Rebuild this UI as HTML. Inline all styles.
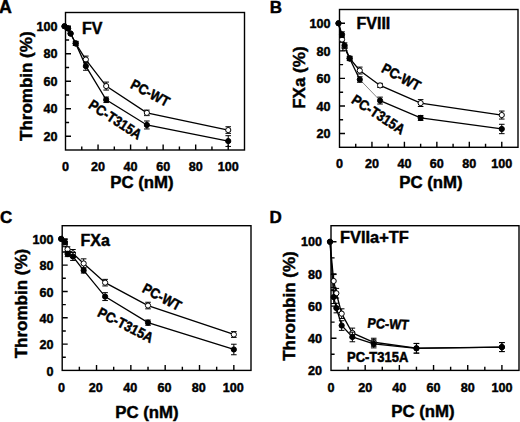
<!DOCTYPE html>
<html><head><meta charset="utf-8"><style>
html,body{margin:0;padding:0;background:#fff;}
svg{display:block;}
text{font-family:"Liberation Sans", sans-serif;font-weight:bold;fill:#000;stroke:#000;stroke-width:0.45px;}
</style></head><body>
<svg width="520" height="422" viewBox="0 0 520 422">
<rect width="520" height="422" fill="#fff"/>
<text x="-1" y="13" font-size="17.8">A</text>
<text x="269.7" y="12.8" font-size="17">B</text>
<text x="0" y="223" font-size="17">C</text>
<text x="269.5" y="222.5" font-size="17">D</text>
<rect x="65.5" y="12.5" width="179" height="137.5" fill="none" stroke="#000" stroke-width="1.4"/>
<path d="M81.77 150v-3.6M98.05 150v-5.5M114.32 150v-3.6M130.59 150v-5.5M146.86 150v-3.6M163.14 150v-5.5M179.41 150v-3.6M195.68 150v-5.5M211.95 150v-3.6M228.23 150v-5.5M65.5 136.25h5.5M65.5 122.5h3.6M65.5 108.75h5.5M65.5 95h3.6M65.5 81.25h5.5M65.5 67.5h3.6M65.5 53.75h5.5M65.5 40h3.6M65.5 26.25h5.5" stroke="#000" stroke-width="1.4" fill="none"/>
<text x="65.5" y="170.7" text-anchor="middle" font-size="12.6">0</text>
<text x="98.05" y="170.7" text-anchor="middle" font-size="12.6">20</text>
<text x="130.59" y="170.7" text-anchor="middle" font-size="12.6">40</text>
<text x="163.14" y="170.7" text-anchor="middle" font-size="12.6">60</text>
<text x="195.68" y="170.7" text-anchor="middle" font-size="12.6">80</text>
<text x="228.23" y="170.7" text-anchor="middle" font-size="12.6">100</text>
<text x="57.5" y="140.95" text-anchor="end" font-size="12.6">20</text>
<text x="57.5" y="113.45" text-anchor="end" font-size="12.6">40</text>
<text x="57.5" y="85.95" text-anchor="end" font-size="12.6">60</text>
<text x="57.5" y="58.45" text-anchor="end" font-size="12.6">80</text>
<text x="57.5" y="30.95" text-anchor="end" font-size="12.6">100</text>
<polyline points="64.5,26.25 68.04,28.45 70.59,33.54 75.67,43.44 85.84,66.12 106.18,99.81 146.86,124.97 228.23,141.06" fill="none" stroke="#000" stroke-width="1.3"/>
<polyline points="64.5,26.25 68.04,28.45 70.59,33.54 75.67,43.44 85.84,59.53 106.18,86.06 146.86,112.88 228.23,130.06" fill="none" stroke="#000" stroke-width="1.3"/>
<path d="M75.67 41.38V45.5M72.87 41.38h5.6M72.87 45.5h5.6" stroke="#000" stroke-width="1" fill="none"/>
<path d="M85.84 56.09V62.96M83.04 56.09h5.6M83.04 62.96h5.6" stroke="#000" stroke-width="1" fill="none"/>
<path d="M106.18 82.08V90.05M103.38 82.08h5.6M103.38 90.05h5.6" stroke="#000" stroke-width="1" fill="none"/>
<path d="M146.86 110.12V115.62M144.06 110.12h5.6M144.06 115.62h5.6" stroke="#000" stroke-width="1" fill="none"/>
<path d="M228.23 126.76V133.36M225.43 126.76h5.6M225.43 133.36h5.6" stroke="#000" stroke-width="1" fill="none"/>
<circle cx="64.5" cy="26.25" r="2.6" fill="#fff" stroke="#000" stroke-width="1"/>
<circle cx="68.04" cy="28.45" r="2.6" fill="#fff" stroke="#000" stroke-width="1"/>
<circle cx="70.59" cy="33.54" r="2.6" fill="#fff" stroke="#000" stroke-width="1"/>
<circle cx="75.67" cy="43.44" r="2.6" fill="#fff" stroke="#000" stroke-width="1"/>
<circle cx="85.84" cy="59.53" r="2.6" fill="#fff" stroke="#000" stroke-width="1"/>
<circle cx="106.18" cy="86.06" r="2.6" fill="#fff" stroke="#000" stroke-width="1"/>
<circle cx="146.86" cy="112.88" r="2.6" fill="#fff" stroke="#000" stroke-width="1"/>
<circle cx="228.23" cy="130.06" r="2.6" fill="#fff" stroke="#000" stroke-width="1"/>
<path d="M75.67 41.38V45.5M72.87 41.38h5.6M72.87 45.5h5.6" stroke="#000" stroke-width="1" fill="none"/>
<path d="M85.84 62V70.25M83.04 62h5.6M83.04 70.25h5.6" stroke="#000" stroke-width="1" fill="none"/>
<path d="M106.18 97.06V102.56M103.38 97.06h5.6M103.38 102.56h5.6" stroke="#000" stroke-width="1" fill="none"/>
<path d="M146.86 120.99V128.96M144.06 120.99h5.6M144.06 128.96h5.6" stroke="#000" stroke-width="1" fill="none"/>
<path d="M228.23 135.7V146.43M225.43 135.7h5.6M225.43 146.43h5.6" stroke="#000" stroke-width="1" fill="none"/>
<circle cx="64.5" cy="26.25" r="2.6" fill="#000" stroke="#000" stroke-width="1"/>
<circle cx="68.04" cy="28.45" r="2.6" fill="#000" stroke="#000" stroke-width="1"/>
<circle cx="70.59" cy="33.54" r="2.6" fill="#000" stroke="#000" stroke-width="1"/>
<circle cx="75.67" cy="43.44" r="2.6" fill="#000" stroke="#000" stroke-width="1"/>
<circle cx="85.84" cy="66.12" r="2.6" fill="#000" stroke="#000" stroke-width="1"/>
<circle cx="106.18" cy="99.81" r="2.6" fill="#000" stroke="#000" stroke-width="1"/>
<circle cx="146.86" cy="124.97" r="2.6" fill="#000" stroke="#000" stroke-width="1"/>
<circle cx="228.23" cy="141.06" r="2.6" fill="#000" stroke="#000" stroke-width="1"/>
<rect x="339.5" y="9.5" width="178.5" height="137.8" fill="none" stroke="#000" stroke-width="1.4"/>
<path d="M355.73 147.3v-3.6M371.95 147.3v-5.5M388.18 147.3v-3.6M404.41 147.3v-5.5M420.64 147.3v-3.6M436.86 147.3v-5.5M453.09 147.3v-3.6M469.32 147.3v-5.5M485.55 147.3v-3.6M501.77 147.3v-5.5M339.5 133.52h5.5M339.5 119.74h3.6M339.5 105.96h5.5M339.5 92.18h3.6M339.5 78.4h5.5M339.5 64.62h3.6M339.5 50.84h5.5M339.5 37.06h3.6M339.5 23.28h5.5" stroke="#000" stroke-width="1.4" fill="none"/>
<text x="339.5" y="168.3" text-anchor="middle" font-size="12.6">0</text>
<text x="371.95" y="168.3" text-anchor="middle" font-size="12.6">20</text>
<text x="404.41" y="168.3" text-anchor="middle" font-size="12.6">40</text>
<text x="436.86" y="168.3" text-anchor="middle" font-size="12.6">60</text>
<text x="469.32" y="168.3" text-anchor="middle" font-size="12.6">80</text>
<text x="501.77" y="168.3" text-anchor="middle" font-size="12.6">100</text>
<text x="330.5" y="138.22" text-anchor="end" font-size="12.6">20</text>
<text x="330.5" y="110.66" text-anchor="end" font-size="12.6">40</text>
<text x="330.5" y="83.1" text-anchor="end" font-size="12.6">60</text>
<text x="330.5" y="55.54" text-anchor="end" font-size="12.6">80</text>
<text x="330.5" y="27.98" text-anchor="end" font-size="12.6">100</text>
<line x1="359.78" y1="79.5" x2="380.07" y2="100.59" stroke="#777" stroke-width="0.9"/>
<polyline points="338.5,23.28 342.04,34.58 344.57,45.6 349.64,58.56 359.78,79.5" fill="none" stroke="#000" stroke-width="1.3"/>
<polyline points="380.07,100.59 420.64,117.95 501.77,128.97" fill="none" stroke="#000" stroke-width="1.3"/>
<polyline points="338.5,23.28 342.04,39.54 344.57,47.67 349.64,58.28 359.78,70.55 380.07,85.43 420.64,103.07 501.77,115.05" fill="none" stroke="#000" stroke-width="1.3"/>
<path d="M342.04 36.78V42.3M339.24 36.78h5.6M339.24 42.3h5.6" stroke="#000" stroke-width="1" fill="none"/>
<path d="M344.57 44.91V50.43M341.77 44.91h5.6M341.77 50.43h5.6" stroke="#000" stroke-width="1" fill="none"/>
<path d="M349.64 56.21V60.35M346.84 56.21h5.6M346.84 60.35h5.6" stroke="#000" stroke-width="1" fill="none"/>
<path d="M359.78 67.1V73.99M356.98 67.1h5.6M356.98 73.99h5.6" stroke="#000" stroke-width="1" fill="none"/>
<path d="M380.07 83.36V87.49M377.27 83.36h5.6M377.27 87.49h5.6" stroke="#000" stroke-width="1" fill="none"/>
<path d="M420.64 99.62V106.51M417.84 99.62h5.6M417.84 106.51h5.6" stroke="#000" stroke-width="1" fill="none"/>
<path d="M501.77 111.06V119.05M498.97 111.06h5.6M498.97 119.05h5.6" stroke="#000" stroke-width="1" fill="none"/>
<circle cx="338.5" cy="23.28" r="2.6" fill="#fff" stroke="#000" stroke-width="1"/>
<circle cx="342.04" cy="39.54" r="2.6" fill="#fff" stroke="#000" stroke-width="1"/>
<circle cx="344.57" cy="47.67" r="2.6" fill="#fff" stroke="#000" stroke-width="1"/>
<circle cx="349.64" cy="58.28" r="2.6" fill="#fff" stroke="#000" stroke-width="1"/>
<circle cx="359.78" cy="70.55" r="2.6" fill="#fff" stroke="#000" stroke-width="1"/>
<circle cx="380.07" cy="85.43" r="2.6" fill="#fff" stroke="#000" stroke-width="1"/>
<circle cx="420.64" cy="103.07" r="2.6" fill="#fff" stroke="#000" stroke-width="1"/>
<circle cx="501.77" cy="115.05" r="2.6" fill="#fff" stroke="#000" stroke-width="1"/>
<path d="M342.04 31.82V37.34M339.24 31.82h5.6M339.24 37.34h5.6" stroke="#000" stroke-width="1" fill="none"/>
<path d="M344.57 42.85V48.36M341.77 42.85h5.6M341.77 48.36h5.6" stroke="#000" stroke-width="1" fill="none"/>
<path d="M349.64 56.49V60.62M346.84 56.49h5.6M346.84 60.62h5.6" stroke="#000" stroke-width="1" fill="none"/>
<path d="M359.78 76.75V82.26M356.98 76.75h5.6M356.98 82.26h5.6" stroke="#000" stroke-width="1" fill="none"/>
<path d="M380.07 97.14V104.03M377.27 97.14h5.6M377.27 104.03h5.6" stroke="#000" stroke-width="1" fill="none"/>
<path d="M420.64 115.47V120.43M417.84 115.47h5.6M417.84 120.43h5.6" stroke="#000" stroke-width="1" fill="none"/>
<path d="M501.77 124.29V133.66M498.97 124.29h5.6M498.97 133.66h5.6" stroke="#000" stroke-width="1" fill="none"/>
<circle cx="338.5" cy="23.28" r="2.6" fill="#000" stroke="#000" stroke-width="1"/>
<circle cx="342.04" cy="34.58" r="2.6" fill="#000" stroke="#000" stroke-width="1"/>
<circle cx="344.57" cy="45.6" r="2.6" fill="#000" stroke="#000" stroke-width="1"/>
<circle cx="349.64" cy="58.56" r="2.6" fill="#000" stroke="#000" stroke-width="1"/>
<circle cx="359.78" cy="79.5" r="2.6" fill="#000" stroke="#000" stroke-width="1"/>
<circle cx="380.07" cy="100.59" r="2.6" fill="#000" stroke="#000" stroke-width="1"/>
<circle cx="420.64" cy="117.95" r="2.6" fill="#000" stroke="#000" stroke-width="1"/>
<circle cx="501.77" cy="128.97" r="2.6" fill="#000" stroke="#000" stroke-width="1"/>
<rect x="62.2" y="225.7" width="188.8" height="144.7" fill="none" stroke="#000" stroke-width="1.4"/>
<path d="M79.36 370.4v-3.6M96.53 370.4v-5.5M113.69 370.4v-3.6M130.85 370.4v-5.5M148.02 370.4v-3.6M165.18 370.4v-5.5M182.35 370.4v-3.6M199.51 370.4v-5.5M216.67 370.4v-3.6M233.84 370.4v-5.5M62.2 357.25h3.6M62.2 344.09h5.5M62.2 330.94h3.6M62.2 317.78h5.5M62.2 304.63h3.6M62.2 291.47h5.5M62.2 278.32h3.6M62.2 265.16h5.5M62.2 252.01h3.6M62.2 238.85h5.5" stroke="#000" stroke-width="1.4" fill="none"/>
<text x="61.5" y="392.3" text-anchor="middle" font-size="12.6">0</text>
<text x="95.83" y="392.3" text-anchor="middle" font-size="12.6">20</text>
<text x="130.15" y="392.3" text-anchor="middle" font-size="12.6">40</text>
<text x="164.48" y="392.3" text-anchor="middle" font-size="12.6">60</text>
<text x="198.81" y="392.3" text-anchor="middle" font-size="12.6">80</text>
<text x="233.14" y="392.3" text-anchor="middle" font-size="12.6">100</text>
<text x="53.5" y="375.7" text-anchor="end" font-size="12.6">0</text>
<text x="53.5" y="349.39" text-anchor="end" font-size="12.6">20</text>
<text x="53.5" y="323.08" text-anchor="end" font-size="12.6">40</text>
<text x="53.5" y="296.77" text-anchor="end" font-size="12.6">60</text>
<text x="53.5" y="270.46" text-anchor="end" font-size="12.6">80</text>
<text x="53.5" y="244.15" text-anchor="end" font-size="12.6">100</text>
<polyline points="61.2,238.85 64.88,242.14 67.56,253.98 72.93,256.48 83.65,270.43 105.11,296.6 148.02,322.65 233.84,349.48" fill="none" stroke="#000" stroke-width="1.3"/>
<polyline points="61.2,238.85 64.88,244.12 67.56,249.38 72.93,253.46 83.65,263.45 105.11,282.66 148.02,305.55 233.84,334.49" fill="none" stroke="#000" stroke-width="1.3"/>
<path d="M64.88 241.49V246.75M62.08 241.49h5.6M62.08 246.75h5.6" stroke="#000" stroke-width="1" fill="none"/>
<path d="M67.56 246.75V252.01M64.76 246.75h5.6M64.76 252.01h5.6" stroke="#000" stroke-width="1" fill="none"/>
<path d="M72.93 249.51V257.4M70.13 249.51h5.6M70.13 257.4h5.6" stroke="#000" stroke-width="1" fill="none"/>
<path d="M83.65 258.85V268.06M80.85 258.85h5.6M80.85 268.06h5.6" stroke="#000" stroke-width="1" fill="none"/>
<path d="M105.11 279.37V285.95M102.31 279.37h5.6M102.31 285.95h5.6" stroke="#000" stroke-width="1" fill="none"/>
<path d="M148.02 302.26V308.84M145.22 302.26h5.6M145.22 308.84h5.6" stroke="#000" stroke-width="1" fill="none"/>
<path d="M233.84 331.59V337.38M231.04 331.59h5.6M231.04 337.38h5.6" stroke="#000" stroke-width="1" fill="none"/>
<circle cx="61.2" cy="238.85" r="2.6" fill="#fff" stroke="#000" stroke-width="1"/>
<circle cx="64.88" cy="244.12" r="2.6" fill="#fff" stroke="#000" stroke-width="1"/>
<circle cx="67.56" cy="249.38" r="2.6" fill="#fff" stroke="#000" stroke-width="1"/>
<circle cx="72.93" cy="253.46" r="2.6" fill="#fff" stroke="#000" stroke-width="1"/>
<circle cx="83.65" cy="263.45" r="2.6" fill="#fff" stroke="#000" stroke-width="1"/>
<circle cx="105.11" cy="282.66" r="2.6" fill="#fff" stroke="#000" stroke-width="1"/>
<circle cx="148.02" cy="305.55" r="2.6" fill="#fff" stroke="#000" stroke-width="1"/>
<circle cx="233.84" cy="334.49" r="2.6" fill="#fff" stroke="#000" stroke-width="1"/>
<path d="M64.88 239.51V244.77M62.08 239.51h5.6M62.08 244.77h5.6" stroke="#000" stroke-width="1" fill="none"/>
<path d="M67.56 251.35V256.61M64.76 251.35h5.6M64.76 256.61h5.6" stroke="#000" stroke-width="1" fill="none"/>
<path d="M72.93 252.54V260.43M70.13 252.54h5.6M70.13 260.43h5.6" stroke="#000" stroke-width="1" fill="none"/>
<path d="M83.65 267.79V273.06M80.85 267.79h5.6M80.85 273.06h5.6" stroke="#000" stroke-width="1" fill="none"/>
<path d="M105.11 292.66V300.55M102.31 292.66h5.6M102.31 300.55h5.6" stroke="#000" stroke-width="1" fill="none"/>
<path d="M148.02 320.02V325.28M145.22 320.02h5.6M145.22 325.28h5.6" stroke="#000" stroke-width="1" fill="none"/>
<path d="M233.84 344.22V354.75M231.04 344.22h5.6M231.04 354.75h5.6" stroke="#000" stroke-width="1" fill="none"/>
<circle cx="61.2" cy="238.85" r="2.6" fill="#000" stroke="#000" stroke-width="1"/>
<circle cx="64.88" cy="242.14" r="2.6" fill="#000" stroke="#000" stroke-width="1"/>
<circle cx="67.56" cy="253.98" r="2.6" fill="#000" stroke="#000" stroke-width="1"/>
<circle cx="72.93" cy="256.48" r="2.6" fill="#000" stroke="#000" stroke-width="1"/>
<circle cx="83.65" cy="270.43" r="2.6" fill="#000" stroke="#000" stroke-width="1"/>
<circle cx="105.11" cy="296.6" r="2.6" fill="#000" stroke="#000" stroke-width="1"/>
<circle cx="148.02" cy="322.65" r="2.6" fill="#000" stroke="#000" stroke-width="1"/>
<circle cx="233.84" cy="349.48" r="2.6" fill="#000" stroke="#000" stroke-width="1"/>
<rect x="331" y="225.7" width="188" height="144.7" fill="none" stroke="#000" stroke-width="1.4"/>
<path d="M348.09 370.4v-3.6M365.18 370.4v-5.5M382.27 370.4v-3.6M399.36 370.4v-5.5M416.45 370.4v-3.6M433.55 370.4v-5.5M450.64 370.4v-3.6M467.73 370.4v-5.5M484.82 370.4v-3.6M501.91 370.4v-5.5M331 354.32h3.6M331 338.24h5.5M331 322.17h3.6M331 306.09h5.5M331 290.01h3.6M331 273.93h5.5M331 257.86h3.6M331 241.78h5.5" stroke="#000" stroke-width="1.4" fill="none"/>
<text x="331" y="392.3" text-anchor="middle" font-size="12.6">0</text>
<text x="365.18" y="392.3" text-anchor="middle" font-size="12.6">20</text>
<text x="399.36" y="392.3" text-anchor="middle" font-size="12.6">40</text>
<text x="433.55" y="392.3" text-anchor="middle" font-size="12.6">60</text>
<text x="467.73" y="392.3" text-anchor="middle" font-size="12.6">80</text>
<text x="501.91" y="392.3" text-anchor="middle" font-size="12.6">100</text>
<text x="322" y="375.1" text-anchor="end" font-size="12.6">20</text>
<text x="322" y="342.94" text-anchor="end" font-size="12.6">40</text>
<text x="322" y="310.79" text-anchor="end" font-size="12.6">60</text>
<text x="322" y="278.63" text-anchor="end" font-size="12.6">80</text>
<text x="322" y="246.48" text-anchor="end" font-size="12.6">100</text>
<polyline points="330,241.78 333.67,297.09 336.34,308.02 341.68,325.54 352.36,336.96 373.73,343.87 416.45,348.37 501.91,347.09" fill="none" stroke="#000" stroke-width="1.3"/>
<polyline points="330,241.78 333.67,281.01 336.34,293.23 341.68,313.65 352.36,332.94 373.73,342.26 416.45,348.21 501.91,347.09" fill="none" stroke="#000" stroke-width="1.3"/>
<path d="M333.67 274.58V287.44M330.87 274.58h5.6M330.87 287.44h5.6" stroke="#000" stroke-width="1" fill="none"/>
<path d="M336.34 288.4V298.05M333.54 288.4h5.6M333.54 298.05h5.6" stroke="#000" stroke-width="1" fill="none"/>
<path d="M341.68 308.82V318.47M338.88 308.82h5.6M338.88 318.47h5.6" stroke="#000" stroke-width="1" fill="none"/>
<path d="M352.36 328.12V337.76M349.56 328.12h5.6M349.56 337.76h5.6" stroke="#000" stroke-width="1" fill="none"/>
<path d="M373.73 338.24V346.28M370.93 338.24h5.6M370.93 346.28h5.6" stroke="#000" stroke-width="1" fill="none"/>
<path d="M416.45 343.39V353.04M413.65 343.39h5.6M413.65 353.04h5.6" stroke="#000" stroke-width="1" fill="none"/>
<path d="M501.91 342.59V351.59M499.11 342.59h5.6M499.11 351.59h5.6" stroke="#000" stroke-width="1" fill="none"/>
<circle cx="330" cy="241.78" r="2.6" fill="#fff" stroke="#000" stroke-width="1"/>
<circle cx="333.67" cy="281.01" r="2.6" fill="#fff" stroke="#000" stroke-width="1"/>
<circle cx="336.34" cy="293.23" r="2.6" fill="#fff" stroke="#000" stroke-width="1"/>
<circle cx="341.68" cy="313.65" r="2.6" fill="#fff" stroke="#000" stroke-width="1"/>
<circle cx="352.36" cy="332.94" r="2.6" fill="#fff" stroke="#000" stroke-width="1"/>
<circle cx="373.73" cy="342.26" r="2.6" fill="#fff" stroke="#000" stroke-width="1"/>
<circle cx="416.45" cy="348.21" r="2.6" fill="#fff" stroke="#000" stroke-width="1"/>
<circle cx="501.91" cy="347.09" r="2.6" fill="#fff" stroke="#000" stroke-width="1"/>
<path d="M333.67 290.65V303.52M330.87 290.65h5.6M330.87 303.52h5.6" stroke="#000" stroke-width="1" fill="none"/>
<path d="M336.34 303.19V312.84M333.54 303.19h5.6M333.54 312.84h5.6" stroke="#000" stroke-width="1" fill="none"/>
<path d="M341.68 320.72V330.37M338.88 320.72h5.6M338.88 330.37h5.6" stroke="#000" stroke-width="1" fill="none"/>
<path d="M352.36 332.13V341.78M349.56 332.13h5.6M349.56 341.78h5.6" stroke="#000" stroke-width="1" fill="none"/>
<path d="M373.73 339.85V347.89M370.93 339.85h5.6M370.93 347.89h5.6" stroke="#000" stroke-width="1" fill="none"/>
<path d="M416.45 343.55V353.2M413.65 343.55h5.6M413.65 353.2h5.6" stroke="#000" stroke-width="1" fill="none"/>
<path d="M501.91 342.59V351.59M499.11 342.59h5.6M499.11 351.59h5.6" stroke="#000" stroke-width="1" fill="none"/>
<circle cx="330" cy="241.78" r="2.6" fill="#000" stroke="#000" stroke-width="1"/>
<circle cx="333.67" cy="297.09" r="2.6" fill="#000" stroke="#000" stroke-width="1"/>
<circle cx="336.34" cy="308.02" r="2.6" fill="#000" stroke="#000" stroke-width="1"/>
<circle cx="341.68" cy="325.54" r="2.6" fill="#000" stroke="#000" stroke-width="1"/>
<circle cx="352.36" cy="336.96" r="2.6" fill="#000" stroke="#000" stroke-width="1"/>
<circle cx="373.73" cy="343.87" r="2.6" fill="#000" stroke="#000" stroke-width="1"/>
<circle cx="416.45" cy="348.37" r="2.6" fill="#000" stroke="#000" stroke-width="1"/>
<circle cx="501.91" cy="347.09" r="2.6" fill="#000" stroke="#000" stroke-width="1"/>
<text x="82" y="34" font-size="16">FV</text>
<text x="356.5" y="29" font-size="16">FVIII</text>
<text x="80.5" y="245.5" font-size="16">FXa</text>
<text x="340" y="243.2" font-size="16.4">FVIIa+TF</text>
<text x="110.2" y="188" font-size="16.8">PC (nM)</text>
<text x="399.3" y="188" font-size="16.8">PC (nM)</text>
<text x="115.3" y="418" font-size="16.8">PC (nM)</text>
<text x="391.3" y="416.5" font-size="16.8">PC (nM)</text>
<text transform="translate(31.9,141) rotate(-90)" font-size="17">Thrombin (%)</text>
<text transform="translate(305.3,108.8) rotate(-90)" font-size="17">FXa (%)</text>
<text transform="translate(26.7,358.3) rotate(-90)" font-size="17">Thrombin (%)</text>
<text transform="translate(294.7,360.8) rotate(-90)" font-size="17">Thrombin (%)</text>
<text transform="translate(129.5,87.5) rotate(28) scale(0.98,1.1)" font-size="13">PC-WT</text>
<text transform="translate(87.4,107.3) rotate(33) scale(0.98,1.1)" font-size="13">PC-T315A</text>
<text transform="translate(380.5,71.6) rotate(28) scale(0.98,1.1)" font-size="13">PC-WT</text>
<text transform="translate(350.5,102.2) rotate(33) scale(0.98,1.1)" font-size="13">PC-T315A</text>
<text transform="translate(141.3,291.6) rotate(28) scale(0.98,1.1)" font-size="13">PC-WT</text>
<text transform="translate(96.6,315.8) rotate(27) scale(0.98,1.1)" font-size="13">PC-T315A</text>
<text transform="translate(367,327.8) rotate(2.5) skewX(-4) scale(1,1.1)" font-size="12.6">PC-WT</text>
<text transform="translate(347,361.5) scale(1,1.08)" font-size="13">PC-T315A</text>
</svg>
</body></html>
